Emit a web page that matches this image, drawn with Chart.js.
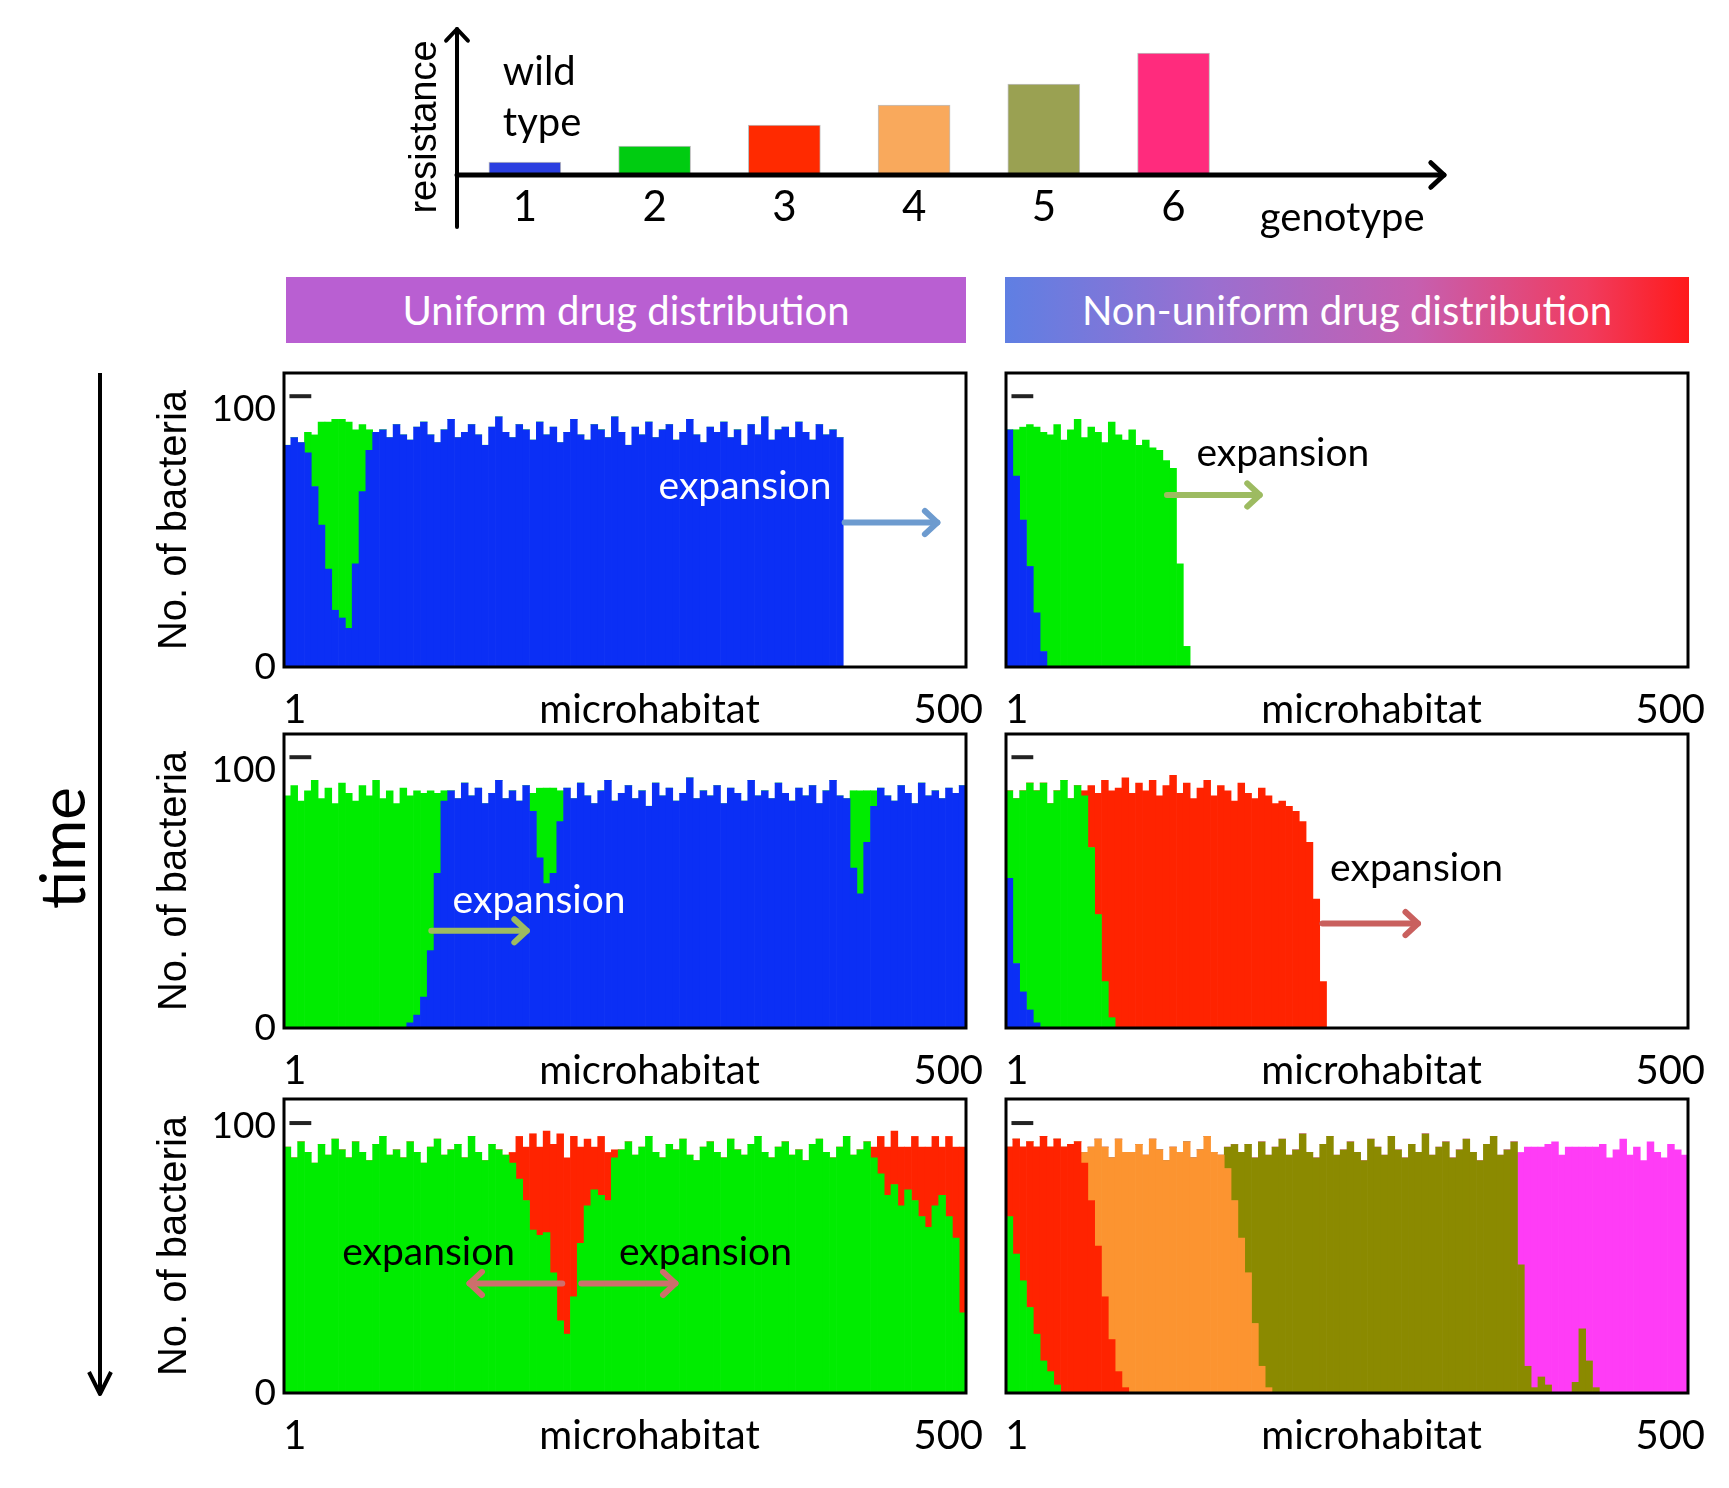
<!DOCTYPE html>
<html>
<head>
<meta charset="utf-8">
<title>Resistance expansion</title>
<script src="https://cdn.jsdelivr.net/npm/chart.js@4.4.1/dist/chart.umd.min.js"></script>
<style>
  body { margin: 0; background: #fff; }
  #fig { position: relative; width: 1729px; height: 1488px; background: #fff; overflow: hidden; font-family: Lato, sans-serif; }
  #fig canvas { position: absolute; }
  .hdr { position: absolute; top: 277px; height: 66px; color: #fff; font-size: 40px; display: flex; align-items: center; justify-content: center; }
</style>
</head>
<body>
<div id="fig">
  <svg width="1729" height="1488" style="position:absolute;left:0;top:0">
    <line x1="100" y1="373" x2="100" y2="1390" stroke="#000" stroke-width="4"/>
    <polyline points="89,1372 100,1394 111,1372" fill="none" stroke="#000" stroke-width="4" stroke-linejoin="round"/>
    <text x="61" y="848" transform="rotate(-90 61 848)" font-family="Lato" font-size="62" text-anchor="middle" dominant-baseline="central">time</text>
  </svg>
  <div class="hdr" style="left:286px;width:680px;background:#b95fd2">Uniform drug distribution</div>
  <div class="hdr" style="left:1005px;width:684px;background:linear-gradient(90deg,#5f7fe3 0%,#9a6fd0 30%,#c65fb0 60%,#f03c60 85%,#ff1a1a 100%)">Non-uniform drug distribution</div>
  <canvas id="geno" width="1100" height="260" style="left:380px;top:0px"></canvas>
</div>
<script>
// genotype resistance (top chart)
const genotypes = [1, 2, 3, 4, 5, 6];
const genotypeTicks = ['1', '2', '3', '4', '5', '6'];
const resistance = [13, 29, 50, 70, 91, 122];
const genotypeColors = ['#2b3fe0', '#00cc11', '#ff2a00', '#f9a95c', '#9aa152', '#ff2b7d'];

// panels: 100 bins of 5 microhabitats each
const binLabels = Array.from({length: 100}, (_, i) => (i * 5 + 1) + '-' + (i * 5 + 5));
const yTicks = [0, 100];
const xAxisLabels = ['1', 'microhabitat', '500'];
const colors = ['#0b2ff5', '#00ec00', '#ff2300', '#fc9430', '#8b8a00', '#ff3cf6'];

const uniformT1Blue = [
  86, 89, 87, 83, 70, 55, 38, 22, 19, 15,
  40, 68, 84, 91, 92, 89, 94, 90, 88, 93,
  95, 90, 87, 92, 96, 89, 91, 94, 90, 86,
  93, 97, 91, 89, 94, 92, 88, 95, 90, 93,
  87, 91, 96, 90, 88, 94, 92, 89, 97, 91,
  86, 93, 90, 95, 89, 92, 94, 88, 91, 96,
  90, 87, 93, 91, 95, 89, 92, 86, 94, 90,
  97, 88, 92, 93, 89, 95, 91, 88, 94, 90,
  92, 89, 0, 0, 0, 0, 0, 0, 0, 0,
  0, 0, 0, 0, 0, 0, 0, 0, 0, 0];
const uniformT1Green = [
  0, 0, 0, 8, 20, 40, 57, 74, 77, 80,
  52, 26, 8, 0, 0, 0, 0, 0, 0, 0,
  0, 0, 0, 0, 0, 0, 0, 0, 0, 0,
  0, 0, 0, 0, 0, 0, 0, 0, 0, 0,
  0, 0, 0, 0, 0, 0, 0, 0, 0, 0,
  0, 0, 0, 0, 0, 0, 0, 0, 0, 0,
  0, 0, 0, 0, 0, 0, 0, 0, 0, 0,
  0, 0, 0, 0, 0, 0, 0, 0, 0, 0,
  0, 0, 0, 0, 0, 0, 0, 0, 0, 0,
  0, 0, 0, 0, 0, 0, 0, 0, 0, 0];

const nonUniformT1Blue = [
  92, 74, 57, 39, 21, 6, 0, 0, 0, 0,
  0, 0, 0, 0, 0, 0, 0, 0, 0, 0,
  0, 0, 0, 0, 0, 0, 0, 0, 0, 0,
  0, 0, 0, 0, 0, 0, 0, 0, 0, 0,
  0, 0, 0, 0, 0, 0, 0, 0, 0, 0,
  0, 0, 0, 0, 0, 0, 0, 0, 0, 0,
  0, 0, 0, 0, 0, 0, 0, 0, 0, 0,
  0, 0, 0, 0, 0, 0, 0, 0, 0, 0,
  0, 0, 0, 0, 0, 0, 0, 0, 0, 0,
  0, 0, 0, 0, 0, 0, 0, 0, 0, 0];
const nonUniformT1Green = [
  0, 18, 36, 55, 72, 85, 90, 94, 88, 92,
  96, 89, 93, 91, 87, 95, 90, 88, 92, 86,
  88, 85, 84, 80, 77, 40, 8, 0, 0, 0,
  0, 0, 0, 0, 0, 0, 0, 0, 0, 0,
  0, 0, 0, 0, 0, 0, 0, 0, 0, 0,
  0, 0, 0, 0, 0, 0, 0, 0, 0, 0,
  0, 0, 0, 0, 0, 0, 0, 0, 0, 0,
  0, 0, 0, 0, 0, 0, 0, 0, 0, 0,
  0, 0, 0, 0, 0, 0, 0, 0, 0, 0,
  0, 0, 0, 0, 0, 0, 0, 0, 0, 0];

const uniformT2Blue = [
  0, 0, 0, 0, 0, 0, 0, 0, 0, 0,
  0, 0, 0, 0, 0, 0, 0, 0, 2, 5,
  12, 30, 60, 88, 92, 89, 95, 90, 93, 87,
  91, 96, 89, 92, 88, 94, 84, 66, 56, 60,
  80, 93, 89, 95, 90, 87, 92, 96, 88, 91,
  94, 89, 92, 86, 95, 90, 93, 88, 91, 97,
  89, 92, 90, 94, 87, 93, 91, 88, 96, 90,
  92, 89, 95, 91, 88, 93, 90, 94, 87, 92,
  96, 90, 89, 62, 52, 72, 86, 93, 90, 88,
  94, 91, 87, 95, 90, 92, 89, 93, 91, 94];
const uniformT2Green = [
  90, 94, 88, 92, 96, 89, 93, 87, 95, 91,
  88, 94, 90, 96, 89, 92, 87, 93, 88, 87,
  79, 62, 31, 4, 0, 0, 0, 0, 0, 0,
  0, 0, 0, 0, 0, 0, 7, 27, 37, 33,
  12, 0, 0, 0, 0, 0, 0, 0, 0, 0,
  0, 0, 0, 0, 0, 0, 0, 0, 0, 0,
  0, 0, 0, 0, 0, 0, 0, 0, 0, 0,
  0, 0, 0, 0, 0, 0, 0, 0, 0, 0,
  0, 0, 0, 30, 40, 20, 6, 0, 0, 0,
  0, 0, 0, 0, 0, 0, 0, 0, 0, 0];

const nonUniformT2Blue = [
  58, 25, 14, 7, 2, 0, 0, 0, 0, 0,
  0, 0, 0, 0, 0, 0, 0, 0, 0, 0,
  0, 0, 0, 0, 0, 0, 0, 0, 0, 0,
  0, 0, 0, 0, 0, 0, 0, 0, 0, 0,
  0, 0, 0, 0, 0, 0, 0, 0, 0, 0,
  0, 0, 0, 0, 0, 0, 0, 0, 0, 0,
  0, 0, 0, 0, 0, 0, 0, 0, 0, 0,
  0, 0, 0, 0, 0, 0, 0, 0, 0, 0,
  0, 0, 0, 0, 0, 0, 0, 0, 0, 0,
  0, 0, 0, 0, 0, 0, 0, 0, 0, 0];
const nonUniformT2Green = [
  34, 64, 78, 88, 90, 95, 87, 92, 96, 89,
  94, 90, 70, 44, 18, 4, 0, 0, 0, 0,
  0, 0, 0, 0, 0, 0, 0, 0, 0, 0,
  0, 0, 0, 0, 0, 0, 0, 0, 0, 0,
  0, 0, 0, 0, 0, 0, 0, 0, 0, 0,
  0, 0, 0, 0, 0, 0, 0, 0, 0, 0,
  0, 0, 0, 0, 0, 0, 0, 0, 0, 0,
  0, 0, 0, 0, 0, 0, 0, 0, 0, 0,
  0, 0, 0, 0, 0, 0, 0, 0, 0, 0,
  0, 0, 0, 0, 0, 0, 0, 0, 0, 0];
const nonUniformT2Red = [
  0, 0, 0, 0, 0, 0, 0, 0, 0, 0,
  0, 2, 24, 47, 78, 88, 93, 97, 91, 95,
  92, 96, 90, 94, 98, 91, 95, 89, 93, 96,
  90, 94, 92, 88, 95, 91, 89, 93, 90, 87,
  88, 86, 84, 80, 72, 50, 18, 0, 0, 0,
  0, 0, 0, 0, 0, 0, 0, 0, 0, 0,
  0, 0, 0, 0, 0, 0, 0, 0, 0, 0,
  0, 0, 0, 0, 0, 0, 0, 0, 0, 0,
  0, 0, 0, 0, 0, 0, 0, 0, 0, 0,
  0, 0, 0, 0, 0, 0, 0, 0, 0, 0];

const uniformT3Green = [
  92, 88, 94, 90, 86, 93, 89, 95, 91, 88,
  94, 90, 87, 93, 96, 89, 91, 88, 94, 90,
  86, 92, 95, 89, 91, 93, 88, 96, 90, 87,
  93, 91, 89, 86, 80, 72, 61, 59, 60, 45,
  27, 22, 36, 56, 70, 76, 74, 72, 88, 91,
  94, 89, 92, 96, 90, 88, 93, 91, 95, 89,
  87, 92, 94, 90, 88, 95, 91, 89, 93, 96,
  90, 88, 92, 94, 89, 91, 87, 93, 95, 90,
  88, 92, 96, 89, 91, 94, 88, 82, 74, 78,
  70, 76, 72, 66, 62, 70, 74, 66, 58, 30];
const uniformT3Red = [
  0, 0, 0, 0, 0, 0, 0, 0, 0, 0,
  0, 0, 0, 0, 0, 0, 0, 0, 0, 0,
  0, 0, 0, 0, 0, 0, 0, 0, 0, 0,
  0, 0, 0, 4, 16, 20, 36, 33, 38, 48,
  70, 66, 60, 36, 25, 16, 22, 18, 3, 0,
  0, 0, 0, 0, 0, 0, 0, 0, 0, 0,
  0, 0, 0, 0, 0, 0, 0, 0, 0, 0,
  0, 0, 0, 0, 0, 0, 0, 0, 0, 0,
  0, 0, 0, 0, 0, 0, 4, 14, 18, 20,
  22, 16, 24, 26, 30, 26, 18, 30, 34, 62];

const nonUniformT3Green = [
  66, 52, 42, 32, 22, 12, 8, 3, 0, 0,
  0, 0, 0, 0, 0, 0, 0, 0, 0, 0,
  0, 0, 0, 0, 0, 0, 0, 0, 0, 0,
  0, 0, 0, 0, 0, 0, 0, 0, 0, 0,
  0, 0, 0, 0, 0, 0, 0, 0, 0, 0,
  0, 0, 0, 0, 0, 0, 0, 0, 0, 0,
  0, 0, 0, 0, 0, 0, 0, 0, 0, 0,
  0, 0, 0, 0, 0, 0, 0, 0, 0, 0,
  0, 0, 0, 0, 0, 0, 0, 0, 0, 0,
  0, 0, 0, 0, 0, 0, 0, 0, 0, 0];
const nonUniformT3Red = [
  26, 43, 50, 62, 70, 84, 84, 92, 92, 93,
  94, 86, 72, 55, 36, 20, 8, 2, 0, 0,
  0, 0, 0, 0, 0, 0, 0, 0, 0, 0,
  0, 0, 0, 0, 0, 0, 0, 0, 0, 0,
  0, 0, 0, 0, 0, 0, 0, 0, 0, 0,
  0, 0, 0, 0, 0, 0, 0, 0, 0, 0,
  0, 0, 0, 0, 0, 0, 0, 0, 0, 0,
  0, 0, 0, 0, 0, 0, 0, 0, 0, 0,
  0, 0, 0, 0, 0, 0, 0, 0, 0, 0,
  0, 0, 0, 0, 0, 0, 0, 0, 0, 0];
const nonUniformT3Orange = [
  0, 0, 0, 0, 0, 0, 0, 0, 0, 0,
  0, 4, 20, 40, 56, 68, 87, 88, 90, 93,
  89, 95, 91, 87, 92, 90, 94, 88, 91, 96,
  90, 89, 84, 72, 58, 45, 26, 10, 2, 0,
  0, 0, 0, 0, 0, 0, 0, 0, 0, 0,
  0, 0, 0, 0, 0, 0, 0, 0, 0, 0,
  0, 0, 0, 0, 0, 0, 0, 0, 0, 0,
  0, 0, 0, 0, 0, 0, 0, 0, 0, 0,
  0, 0, 0, 0, 0, 0, 0, 0, 0, 0,
  0, 0, 0, 0, 0, 0, 0, 0, 0, 0];
const nonUniformT3Olive = [
  0, 0, 0, 0, 0, 0, 0, 0, 0, 0,
  0, 0, 0, 0, 0, 0, 0, 0, 0, 0,
  0, 0, 0, 0, 0, 0, 0, 0, 0, 0,
  0, 0, 8, 21, 32, 48, 62, 84, 87, 92,
  95, 89, 91, 97, 90, 88, 93, 96, 89, 91,
  94, 90, 87, 95, 92, 89, 96, 91, 88, 93,
  90, 97, 89, 92, 94, 88, 91, 95, 90, 87,
  93, 96, 89, 91, 94, 48, 10, 2, 6, 3,
  0, 0, 0, 4, 24, 12, 2, 0, 0, 0,
  0, 0, 0, 0, 0, 0, 0, 0, 0, 0];
const nonUniformT3Pink = [
  0, 0, 0, 0, 0, 0, 0, 0, 0, 0,
  0, 0, 0, 0, 0, 0, 0, 0, 0, 0,
  0, 0, 0, 0, 0, 0, 0, 0, 0, 0,
  0, 0, 0, 0, 0, 0, 0, 0, 0, 0,
  0, 0, 0, 0, 0, 0, 0, 0, 0, 0,
  0, 0, 0, 0, 0, 0, 0, 0, 0, 0,
  0, 0, 0, 0, 0, 0, 0, 0, 0, 0,
  0, 0, 0, 0, 0, 42, 82, 90, 86, 90,
  94, 89, 92, 88, 68, 80, 90, 93, 88, 91,
  95, 89, 92, 87, 94, 90, 88, 93, 91, 89];

const fig = document.getElementById('fig');

// microhabitat (1..500) -> fractional category index
function mhIdx(m) {
  return m / 5 - 0.5;
}

function drawArrow(ctx, x1, y1, x2, y2, color, width, len) {
  ctx.save();
  ctx.strokeStyle = color;
  ctx.lineWidth = width;
  ctx.lineCap = 'round';
  ctx.lineJoin = 'round';
  ctx.beginPath();
  ctx.moveTo(x1, y1);
  ctx.lineTo(x2, y2);
  ctx.stroke();
  const ang = Math.atan2(y2 - y1, x2 - x1);
  ctx.beginPath();
  ctx.moveTo(x2 - len * Math.cos(ang - 0.75), y2 - len * Math.sin(ang - 0.75));
  ctx.lineTo(x2, y2);
  ctx.lineTo(x2 - len * Math.cos(ang + 0.75), y2 - len * Math.sin(ang + 0.75));
  ctx.stroke();
  ctx.restore();
}

const panelDeco = {
  id: 'panelDeco',
  afterDatasetsDraw(chart, args, opts) {
    const {ctx, chartArea: a, scales: {x, y}} = chart;
    ctx.save();
    ctx.strokeStyle = '#000';
    ctx.lineWidth = 3;
    ctx.strokeRect(a.left, a.top, a.width, a.height);

    // small legend dash in the corner
    ctx.strokeStyle = '#222';
    ctx.lineWidth = 4;
    ctx.beginPath();
    ctx.moveTo(x.getPixelForValue(mhIdx(4)), y.getPixelForValue(opts.dash));
    ctx.lineTo(x.getPixelForValue(mhIdx(20)), y.getPixelForValue(opts.dash));
    ctx.stroke();

    ctx.fillStyle = '#000';
    ctx.font = '40px Lato';
    ctx.textAlign = 'center';
    ctx.textBaseline = 'middle';
    const ly = a.bottom + 43;
    ctx.fillText(xAxisLabels[0], x.getPixelForValue(mhIdx(8)), ly);
    ctx.fillText(xAxisLabels[1], x.getPixelForValue(mhIdx(268)), ly);
    ctx.fillText(xAxisLabels[2], x.getPixelForValue(mhIdx(487)), ly);

    ctx.font = '39px Lato';
    (opts.notes || []).forEach(n => {
      ctx.fillStyle = n.color;
      ctx.fillText('expansion', x.getPixelForValue(mhIdx(n.mh)), y.getPixelForValue(n.v));
    });
    (opts.arrows || []).forEach(ar => {
      const yy = y.getPixelForValue(ar.v);
      drawArrow(ctx, x.getPixelForValue(mhIdx(ar.from)), yy, x.getPixelForValue(mhIdx(ar.to)), yy, ar.color, 6, 17);
    });
    ctx.restore();
  }
};

const panels = [
  {col: 0, top: 373, yMax: 114, dash: 105,
   series: [['1', uniformT1Blue, colors[0]], ['2', uniformT1Green, colors[1]]],
   notes: [{mh: 338, v: 70, color: '#fff'}],
   arrows: [{from: 411, to: 479, v: 56, color: '#6d9bcf'}]},
  {col: 1, top: 373, yMax: 114, dash: 105,
   series: [['1', nonUniformT1Blue, colors[0]], ['2', nonUniformT1Green, colors[1]]],
   notes: [{mh: 203, v: 83, color: '#000'}],
   arrows: [{from: 118, to: 186, v: 66.7, color: '#9dbb61'}]},
  {col: 0, top: 734, yMax: 114, dash: 105,
   series: [['1', uniformT2Blue, colors[0]], ['2', uniformT2Green, colors[1]]],
   notes: [{mh: 187, v: 49.4, color: '#fff'}],
   arrows: [{from: 108, to: 178, v: 37.7, color: '#9dbb61'}]},
  {col: 1, top: 734, yMax: 114, dash: 105,
   series: [['1', nonUniformT2Blue, colors[0]], ['2', nonUniformT2Green, colors[1]], ['3', nonUniformT2Red, colors[2]]],
   notes: [{mh: 301, v: 62, color: '#000'}],
   arrows: [{from: 232, to: 302, v: 40.5, color: '#c9605e'}]},
  {col: 0, top: 1099, yMax: 110, dash: 101,
   series: [['2', uniformT3Green, colors[1]], ['3', uniformT3Red, colors[2]]],
   notes: [{mh: 106, v: 52.5, color: '#000'}, {mh: 309, v: 52.5, color: '#000'}],
   arrows: [{from: 204, to: 136, v: 41, color: '#cd6f6c'}, {from: 218, to: 287, v: 41, color: '#cd6f6c'}]},
  {col: 1, top: 1099, yMax: 110, dash: 101,
   series: [['2', nonUniformT3Green, colors[1]], ['3', nonUniformT3Red, colors[2]], ['4', nonUniformT3Orange, colors[3]],
            ['5', nonUniformT3Olive, colors[4]], ['6', nonUniformT3Pink, colors[5]]],
   notes: [], arrows: []}
];

function makePanel(p) {
  const cv = document.createElement('canvas');
  const leftCol = p.col === 0;
  cv.width = leftCol ? 870 : 733;
  cv.height = 409;
  cv.style.left = (leftCol ? 130 : 996) + 'px';
  cv.style.top = (p.top - 40) + 'px';
  fig.appendChild(cv);
  new Chart(cv, {
    type: 'bar',
    data: {
      labels: binLabels,
      datasets: p.series.map(s => ({
        label: 'genotype ' + s[0], data: s[1], backgroundColor: s[2],
        borderWidth: 0, barPercentage: 1, categoryPercentage: 1
      }))
    },
    options: {
      responsive: false,
      animation: false,
      layout: {autoPadding: false, padding: {left: leftCol ? 0 : 10, top: 40, right: leftCol ? 34 : 41, bottom: 75}},
      plugins: {
        legend: {display: false},
        tooltip: {enabled: false},
        panelDeco: {notes: p.notes, arrows: p.arrows, dash: p.dash}
      },
      scales: {
        x: {stacked: true, display: false},
        y: {
          stacked: true, min: 0, max: p.yMax, display: leftCol,
          afterFit: s => { s.width = leftCol ? 154 : 0; },
          afterBuildTicks: s => { s.ticks = yTicks.map(v => ({value: v})); },
          ticks: {color: '#000', font: {family: 'Lato', size: 37}, padding: 8},
          grid: {display: false, drawTicks: false},
          border: {display: false},
          title: {display: true, text: 'No. of bacteria', color: '#000',
                  font: {family: 'Liberation Sans', size: 40}, padding: {top: 21, bottom: 0}}
        }
      }
    },
    plugins: [panelDeco]
  });
}

panels.forEach(makePanel);

// top chart: resistance per genotype
const genoDeco = {
  id: 'genoDeco',
  afterDatasetsDraw(chart) {
    const {ctx, chartArea: a, scales: {x}} = chart;
    ctx.save();
    const ax = a.left - 3;
    drawArrow(ctx, ax, a.bottom + 52, ax, a.top + 2, '#000', 4, 16);
    drawArrow(ctx, ax, a.bottom, a.right - 2, a.bottom, '#000', 5, 18);
    ctx.fillStyle = '#000';
    ctx.textBaseline = 'middle';
    ctx.font = '40px Lato';
    ctx.textAlign = 'left';
    ctx.fillText('wild', x.getPixelForValue(1) - 22, a.top + 45);
    ctx.fillText('type', x.getPixelForValue(1) - 22, a.top + 96);
    ctx.textAlign = 'center';
    ctx.fillText('genotype', x.getPixelForValue(7.3), a.bottom + 43);
    ctx.translate(a.left - 34, (a.top + a.bottom + 52) / 2);
    ctx.rotate(-Math.PI / 2);
    ctx.font = '38px "Liberation Sans"';
    ctx.fillText('resistance', 0, 0);
    ctx.restore();
  }
};

new Chart(document.getElementById('geno'), {
  type: 'bar',
  data: {
    datasets: [{
      label: 'resistance',
      data: genotypes.map((g, i) => ({x: g, y: resistance[i]})),
      backgroundColor: genotypeColors,
      borderColor: 'rgba(0,0,0,0.25)',
      borderWidth: 1,
      barThickness: 72
    }]
  },
  options: {
    responsive: false,
    animation: false,
    layout: {autoPadding: false, padding: {left: 80, top: 27, right: 34, bottom: 25}},
    plugins: {legend: {display: false}, tooltip: {enabled: false}},
    scales: {
      x: {
        type: 'linear', min: 0.5, max: 8.1, offset: false,
        afterFit: s => { s.height = 60; },
        afterBuildTicks: s => { s.ticks = genotypes.map(v => ({value: v})); },
        ticks: {color: '#000', font: {family: 'Lato', size: 42}, padding: 7,
                callback: (v, i) => genotypeTicks[i]},
        grid: {display: false, drawTicks: false},
        border: {display: false}
      },
      y: {min: 0, max: 148, display: false}
    }
  },
  plugins: [genoDeco]
});
</script>
</body>
</html>
